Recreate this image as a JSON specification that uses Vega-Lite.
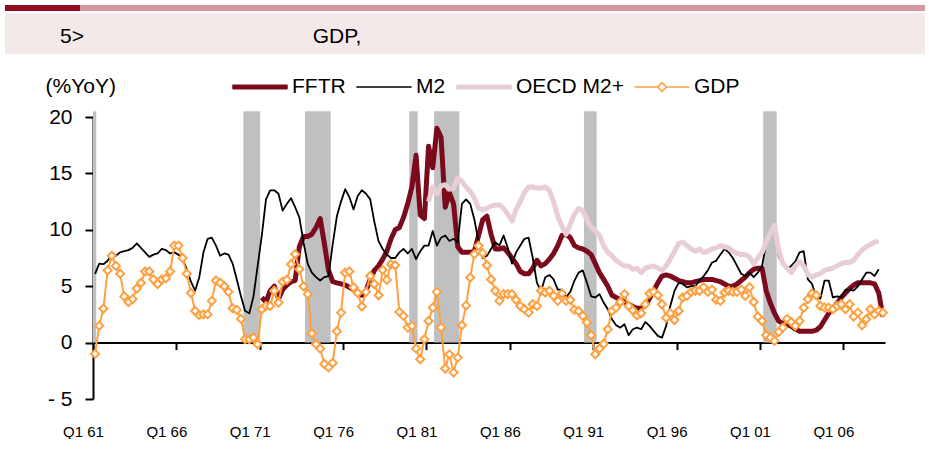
{
 "$schema": "https://vega.github.io/schema/vega-lite/v6.json",
 "padding": {"left": 5, "top": 2, "right": 0, "bottom": 0},
 "background": "white",
 "config": {"view": {"stroke": null}, "font": "Liberation Sans"},
 "datasets": {
  "rec": [
   {"from": 1960.875, "to": 1961.07},
   {"from": 1969.89, "to": 1970.9},
   {"from": 1973.59, "to": 1975.13},
   {"from": 1979.84, "to": 1980.35},
   {"from": 1981.33, "to": 1982.85},
   {"from": 1990.32, "to": 1991.08},
   {"from": 2001.07, "to": 2001.88}
  ],
  "s": [
{"yr":1961,"m2":6.1,"gdp":-1.0},
{"yr":1961.25,"m2":7.0,"gdp":1.5},
{"yr":1961.5,"m2":6.95,"gdp":3.0},
{"yr":1961.75,"m2":7.25,"gdp":6.4},
{"yr":1962,"m2":7.8,"gdp":7.7},
{"yr":1962.25,"m2":7.7,"gdp":6.8},
{"yr":1962.5,"m2":8.0,"gdp":6.1},
{"yr":1962.75,"m2":8.1,"gdp":4.1},
{"yr":1963,"m2":8.2,"gdp":3.6},
{"yr":1963.25,"m2":8.4,"gdp":3.85},
{"yr":1963.5,"m2":8.8,"gdp":4.8},
{"yr":1963.75,"m2":8.4,"gdp":5.3},
{"yr":1964,"m2":8.0,"gdp":6.3},
{"yr":1964.25,"m2":7.6,"gdp":6.3},
{"yr":1964.5,"m2":7.8,"gdp":5.6},
{"yr":1964.75,"m2":7.9,"gdp":5.2},
{"yr":1965,"m2":8.3,"gdp":5.6},
{"yr":1965.25,"m2":8.2,"gdp":5.7},
{"yr":1965.5,"m2":7.9,"gdp":6.3},
{"yr":1965.75,"m2":8.0,"gdp":8.6},
{"yr":1966,"m2":7.8,"gdp":8.6},
{"yr":1966.25,"m2":7.4,"gdp":7.5},
{"yr":1966.5,"m2":6.5,"gdp":6.1},
{"yr":1966.75,"m2":5.4,"gdp":4.4},
{"yr":1967,"m2":4.6,"gdp":2.8},
{"yr":1967.25,"m2":5.8,"gdp":2.45},
{"yr":1967.5,"m2":8.0,"gdp":2.5},
{"yr":1967.75,"m2":9.2,"gdp":2.5},
{"yr":1968,"m2":9.3,"gdp":3.7},
{"yr":1968.25,"m2":8.6,"gdp":5.5},
{"yr":1968.5,"m2":7.7,"gdp":5.3},
{"yr":1968.75,"m2":7.9,"gdp":5.0},
{"yr":1969,"m2":7.8,"gdp":4.5},
{"yr":1969.25,"m2":7.0,"gdp":3.05},
{"yr":1969.5,"m2":5.6,"gdp":2.9},
{"yr":1969.75,"m2":4.1,"gdp":2.1},
{"yr":1970,"m2":2.8,"gdp":0.3},
{"yr":1970.25,"m2":2.6,"gdp":0.3},
{"yr":1970.5,"m2":4.1,"gdp":0.44},
{"yr":1970.75,"m2":6.8,"gdp":-0.15},
{"yr":1971,"fftr":4.0,"m2":9.5,"gdp":2.96},
{"yr":1971.25,"fftr":3.6,"m2":12.7,"gdp":3.25},
{"yr":1971.5,"fftr":4.6,"m2":13.5,"gdp":3.25},
{"yr":1971.75,"fftr":5.0,"m2":13.5,"gdp":4.6},
{"yr":1972,"fftr":3.9,"m2":13.2,"gdp":3.55},
{"yr":1972.25,"fftr":4.7,"m2":11.7,"gdp":5.4},
{"yr":1972.5,"fftr":5.1,"m2":12.3,"gdp":5.56},
{"yr":1972.75,"fftr":5.4,"m2":12.8,"gdp":6.95},
{"yr":1973,"fftr":5.5,"m2":12.0,"gdp":7.84},
{"yr":1973.25,"fftr":8.5,"m2":11.1,"gdp":6.5},
{"yr":1973.5,"fftr":9.4,"m2":8.9,"gdp":5.0},
{"yr":1973.75,"fftr":9.4,"m2":7.0,"gdp":4.3},
{"yr":1974,"fftr":9.6,"m2":6.2,"gdp":0.83},
{"yr":1974.25,"fftr":10.2,"m2":5.8,"gdp":-0.15},
{"yr":1974.5,"fftr":11.0,"m2":5.5,"gdp":-0.53},
{"yr":1974.75,"fftr":8.8,"m2":5.8,"gdp":-1.9},
{"yr":1975,"fftr":6.4,"m2":5.9,"gdp":-2.2},
{"yr":1975.25,"fftr":5.4,"m2":8.7,"gdp":-1.8},
{"yr":1975.5,"fftr":5.3,"m2":11.2,"gdp":1.0},
{"yr":1975.75,"fftr":5.2,"m2":12.5,"gdp":2.66},
{"yr":1976,"fftr":5.1,"m2":13.6,"gdp":6.2},
{"yr":1976.25,"fftr":4.9,"m2":12.9,"gdp":6.3},
{"yr":1976.5,"fftr":4.7,"m2":11.8,"gdp":4.9},
{"yr":1976.75,"fftr":4.4,"m2":13.0,"gdp":4.4},
{"yr":1977,"fftr":4.2,"m2":13.5,"gdp":3.2},
{"yr":1977.25,"fftr":4.6,"m2":13.2,"gdp":4.5},
{"yr":1977.5,"fftr":5.6,"m2":12.7,"gdp":5.9},
{"yr":1977.75,"fftr":6.4,"m2":10.7,"gdp":5.2},
{"yr":1978,"fftr":6.8,"m2":9.0,"gdp":4.2},
{"yr":1978.25,"fftr":7.4,"m2":8.3,"gdp":6.45},
{"yr":1978.5,"fftr":8.1,"m2":7.8,"gdp":5.56},
{"yr":1978.75,"fftr":9.2,"m2":7.5,"gdp":6.95},
{"yr":1979,"fftr":10.0,"m2":7.5,"gdp":6.86},
{"yr":1979.25,"fftr":10.2,"m2":8.0,"gdp":2.72},
{"yr":1979.5,"fftr":11.1,"m2":8.3,"gdp":2.37},
{"yr":1979.75,"fftr":12.3,"m2":7.9,"gdp":1.33},
{"yr":1980,"fftr":13.8,"m2":8.3,"gdp":1.48},
{"yr":1980.25,"fftr":16.6,"m2":7.4,"gdp":-0.53},
{"yr":1980.5,"fftr":11.3,"m2":8.1,"gdp":-1.48},
{"yr":1980.75,"fftr":11.0,"m2":8.6,"gdp":0.3},
{"yr":1981,"fftr":17.4,"m2":8.6,"oecd":12.5,"gdp":1.92},
{"yr":1981.25,"fftr":15.5,"m2":9.9,"oecd":13.8,"gdp":3.1},
{"yr":1981.5,"fftr":19.0,"m2":8.6,"oecd":13.2,"gdp":4.5},
{"yr":1981.75,"fftr":18.2,"m2":9.3,"oecd":13.9,"gdp":1.33},
{"yr":1982,"fftr":12.0,"m2":9.5,"oecd":14.0,"gdp":-2.3},
{"yr":1982.25,"fftr":13.3,"m2":9.0,"oecd":13.6,"gdp":-1.04},
{"yr":1982.5,"fftr":12.3,"m2":9.2,"oecd":13.7,"gdp":-2.66},
{"yr":1982.75,"fftr":8.5,"m2":8.9,"oecd":14.6,"gdp":-1.33},
{"yr":1983,"fftr":8.0,"m2":12.3,"oecd":14.3,"gdp":1.54},
{"yr":1983.25,"fftr":8.0,"m2":12.7,"oecd":13.8,"gdp":3.3},
{"yr":1983.5,"fftr":8.0,"m2":12.3,"oecd":13.4,"gdp":5.77},
{"yr":1983.75,"fftr":8.1,"m2":10.9,"oecd":12.8,"gdp":7.84},
{"yr":1984,"fftr":9.5,"m2":8.9,"oecd":11.9,"gdp":8.58},
{"yr":1984.25,"fftr":10.9,"m2":7.5,"oecd":11.8,"gdp":7.93},
{"yr":1984.5,"fftr":11.2,"m2":7.7,"oecd":11.9,"gdp":6.86},
{"yr":1984.75,"fftr":9.6,"m2":8.3,"oecd":12.1,"gdp":5.6},
{"yr":1985,"fftr":8.3,"m2":8.9,"oecd":12.2,"gdp":4.6},
{"yr":1985.25,"fftr":8.3,"m2":8.6,"oecd":12.2,"gdp":3.7},
{"yr":1985.5,"fftr":8.4,"m2":9.5,"oecd":11.9,"gdp":4.3},
{"yr":1985.75,"fftr":8.0,"m2":8.4,"oecd":11.4,"gdp":4.3},
{"yr":1986,"fftr":7.5,"m2":7.0,"oecd":10.8,"gdp":4.3},
{"yr":1986.25,"fftr":7.0,"m2":8.0,"oecd":11.8,"gdp":3.8},
{"yr":1986.5,"fftr":6.3,"m2":8.6,"oecd":12.5,"gdp":3.25},
{"yr":1986.75,"fftr":6.1,"m2":9.2,"oecd":13.3,"gdp":2.96},
{"yr":1987,"fftr":6.1,"m2":9.3,"oecd":13.8,"gdp":2.66},
{"yr":1987.25,"fftr":6.6,"m2":7.5,"oecd":13.8,"gdp":3.4},
{"yr":1987.5,"fftr":7.3,"m2":5.3,"oecd":13.7,"gdp":3.25},
{"yr":1987.75,"fftr":6.8,"m2":4.6,"oecd":13.7,"gdp":4.6},
{"yr":1988,"fftr":7.0,"m2":5.8,"oecd":13.8,"gdp":4.44},
{"yr":1988.25,"fftr":7.4,"m2":6.0,"oecd":13.5,"gdp":4.6},
{"yr":1988.5,"fftr":7.9,"m2":5.6,"oecd":12.5,"gdp":4.14},
{"yr":1988.75,"fftr":8.6,"m2":4.7,"oecd":11.2,"gdp":3.7},
{"yr":1989,"fftr":9.5,"m2":4.7,"oecd":10.3,"gdp":4.35},
{"yr":1989.25,"fftr":9.6,"m2":4.0,"oecd":9.6,"gdp":3.7},
{"yr":1989.5,"fftr":9.3,"m2":4.5,"oecd":10.5,"gdp":3.8},
{"yr":1989.75,"fftr":8.6,"m2":5.5,"oecd":11.4,"gdp":2.9},
{"yr":1990,"fftr":8.4,"m2":6.2,"oecd":11.9,"gdp":2.8},
{"yr":1990.25,"fftr":8.3,"m2":6.4,"oecd":11.7,"gdp":2.37},
{"yr":1990.5,"fftr":8.1,"m2":5.3,"oecd":10.9,"gdp":1.78},
{"yr":1990.75,"fftr":7.8,"m2":4.1,"oecd":10.2,"gdp":0.65},
{"yr":1991,"fftr":7.0,"m2":4.0,"oecd":9.9,"gdp":-1.04},
{"yr":1991.25,"fftr":6.2,"m2":4.3,"oecd":9.5,"gdp":-0.53},
{"yr":1991.5,"fftr":5.6,"m2":3.55,"oecd":8.6,"gdp":-0.1},
{"yr":1991.75,"fftr":5.0,"m2":2.96,"oecd":8.0,"gdp":1.18},
{"yr":1992,"fftr":4.2,"m2":2.07,"oecd":7.7,"gdp":2.8},
{"yr":1992.25,"fftr":4.0,"m2":1.54,"oecd":7.3,"gdp":3.1},
{"yr":1992.5,"fftr":3.8,"m2":1.33,"oecd":7.0,"gdp":3.6},
{"yr":1992.75,"fftr":3.6,"m2":1.63,"oecd":6.8,"gdp":4.3},
{"yr":1993,"fftr":3.4,"m2":0.65,"oecd":6.8,"gdp":3.25},
{"yr":1993.25,"fftr":3.2,"m2":1.18,"oecd":6.5,"gdp":2.87},
{"yr":1993.5,"fftr":3.05,"m2":1.33,"oecd":6.6,"gdp":2.43},
{"yr":1993.75,"fftr":3.05,"m2":1.18,"oecd":6.2,"gdp":2.6},
{"yr":1994,"fftr":3.3,"m2":1.83,"oecd":6.6,"gdp":3.4},
{"yr":1994.25,"fftr":3.9,"m2":1.48,"oecd":6.7,"gdp":4.35},
{"yr":1994.5,"fftr":4.6,"m2":1.04,"oecd":6.8,"gdp":4.5},
{"yr":1994.75,"fftr":5.3,"m2":0.6,"oecd":6.6,"gdp":4.2},
{"yr":1995,"fftr":5.9,"m2":0.44,"oecd":6.4,"gdp":3.4},
{"yr":1995.25,"fftr":6.0,"m2":1.48,"oecd":6.8,"gdp":2.2},
{"yr":1995.5,"fftr":5.9,"m2":3.25,"oecd":7.4,"gdp":2.6},
{"yr":1995.75,"fftr":5.7,"m2":4.6,"oecd":8.1,"gdp":2.0},
{"yr":1996,"fftr":5.5,"m2":5.3,"oecd":8.8,"gdp":2.8},
{"yr":1996.25,"fftr":5.4,"m2":5.2,"oecd":8.9,"gdp":4.0},
{"yr":1996.5,"fftr":5.3,"m2":4.9,"oecd":8.6,"gdp":4.14},
{"yr":1996.75,"fftr":5.3,"m2":5.0,"oecd":8.3,"gdp":4.5},
{"yr":1997,"fftr":5.4,"m2":5.0,"oecd":8.1,"gdp":4.6},
{"yr":1997.25,"fftr":5.5,"m2":5.5,"oecd":8.3,"gdp":4.6},
{"yr":1997.5,"fftr":5.6,"m2":5.9,"oecd":8.0,"gdp":4.9},
{"yr":1997.75,"fftr":5.6,"m2":6.4,"oecd":8.1,"gdp":4.5},
{"yr":1998,"fftr":5.6,"m2":7.1,"oecd":8.3,"gdp":4.7},
{"yr":1998.25,"fftr":5.5,"m2":7.25,"oecd":8.4,"gdp":3.8},
{"yr":1998.5,"fftr":5.4,"m2":7.8,"oecd":8.6,"gdp":3.7},
{"yr":1998.75,"fftr":5.2,"m2":8.3,"oecd":8.5,"gdp":4.44},
{"yr":1999,"fftr":5.0,"m2":8.0,"oecd":8.4,"gdp":4.6},
{"yr":1999.25,"fftr":5.0,"m2":7.5,"oecd":8.1,"gdp":4.5},
{"yr":1999.5,"fftr":5.2,"m2":6.8,"oecd":7.9,"gdp":4.5},
{"yr":1999.75,"fftr":5.5,"m2":6.1,"oecd":7.8,"gdp":4.7},
{"yr":2000,"fftr":5.8,"m2":5.9,"oecd":7.8,"gdp":4.14},
{"yr":2000.25,"fftr":6.2,"m2":6.2,"oecd":7.6,"gdp":4.9},
{"yr":2000.5,"fftr":6.5,"m2":5.8,"oecd":7.0,"gdp":3.6},
{"yr":2000.75,"fftr":6.6,"m2":6.2,"oecd":7.5,"gdp":2.3},
{"yr":2001,"fftr":6.6,"m2":6.8,"oecd":8.0,"gdp":1.92},
{"yr":2001.25,"fftr":4.6,"m2":8.8,"oecd":8.9,"gdp":0.65},
{"yr":2001.5,"fftr":3.5,"m2":9.6,"oecd":9.7,"gdp":0.44},
{"yr":2001.75,"fftr":2.6,"m2":10.3,"oecd":10.4,"gdp":0.15},
{"yr":2002,"fftr":1.9,"m2":7.6,"oecd":8.2,"gdp":0.95},
{"yr":2002.25,"fftr":1.7,"m2":6.9,"oecd":7.0,"gdp":1.33},
{"yr":2002.5,"fftr":1.6,"m2":6.5,"oecd":6.6,"gdp":2.1},
{"yr":2002.75,"fftr":1.45,"m2":6.8,"oecd":6.2,"gdp":1.83},
{"yr":2003,"fftr":1.2,"m2":7.2,"oecd":6.8,"gdp":1.48},
{"yr":2003.25,"fftr":1.0,"m2":8.0,"oecd":7.2,"gdp":1.92},
{"yr":2003.5,"fftr":1.0,"m2":8.1,"oecd":6.8,"gdp":3.1},
{"yr":2003.75,"fftr":1.0,"m2":5.6,"oecd":6.0,"gdp":3.85},
{"yr":2004,"fftr":1.0,"m2":5.2,"oecd":5.8,"gdp":4.35},
{"yr":2004.25,"fftr":1.1,"m2":4.0,"oecd":6.0,"gdp":4.2},
{"yr":2004.5,"fftr":1.4,"m2":3.9,"oecd":6.1,"gdp":3.25},
{"yr":2004.75,"fftr":2.0,"m2":5.5,"oecd":6.4,"gdp":3.1},
{"yr":2005,"fftr":2.6,"m2":5.5,"oecd":6.5,"gdp":3.1},
{"yr":2005.25,"fftr":3.0,"m2":4.0,"oecd":6.6,"gdp":2.96},
{"yr":2005.5,"fftr":3.5,"m2":4.1,"oecd":6.8,"gdp":3.25},
{"yr":2005.75,"fftr":4.0,"m2":4.0,"oecd":7.0,"gdp":3.4},
{"yr":2006,"fftr":4.4,"m2":4.7,"oecd":7.1,"gdp":2.96},
{"yr":2006.25,"fftr":4.8,"m2":4.7,"oecd":7.1,"gdp":3.4},
{"yr":2006.5,"fftr":5.1,"m2":4.6,"oecd":7.3,"gdp":2.3},
{"yr":2006.75,"fftr":5.3,"m2":5.0,"oecd":7.8,"gdp":2.66},
{"yr":2007,"fftr":5.3,"m2":5.6,"oecd":8.2,"gdp":1.54},
{"yr":2007.25,"fftr":5.3,"m2":6.2,"oecd":8.5,"gdp":2.07},
{"yr":2007.5,"fftr":5.3,"m2":6.2,"oecd":8.7,"gdp":2.96},
{"yr":2007.75,"fftr":5.2,"m2":5.9,"oecd":8.9,"gdp":2.5},
{"yr":2008,"fftr":4.4,"m2":6.5,"oecd":9.0,"gdp":2.8},
{"yr":2008.25,"fftr":2.3,"gdp":2.66}
  ]
 },
 "spacing": 21,
 "vconcat": [
  {"spacing": 0, "vconcat": [
   {"spacing": 0, "hconcat": [
    {"width": 75, "height": 6, "view": {"fill": "#8E0B22", "stroke": null}, "data": {"values": [{}]}, "mark": {"type": "text", "text": ""}},
    {"width": 845, "height": 6, "view": {"fill": "#D4979F", "stroke": null}, "data": {"values": [{}]}, "mark": {"type": "text", "text": ""}}
   ]},
   {"spacing": 0, "hconcat": [
    {"width": 134, "height": 41, "view": {"fill": "#F4E9E9", "stroke": null}, "data": {"values": [{}]}, "mark": {"type": "text", "text": "5>", "font": "Liberation Sans", "fontSize": 21, "dy": 3, "color": "#000000"}},
    {"width": 396, "height": 41, "view": {"fill": "#F4E9E9", "stroke": null}, "data": {"values": [{}]}, "mark": {"type": "text", "text": "GDP,", "font": "Liberation Sans", "fontSize": 21, "dy": 3, "color": "#000000"}},
    {"width": 390, "height": 41, "view": {"fill": "#F4E9E9", "stroke": null}, "data": {"values": [{}]}, "mark": {"type": "text", "text": ""}}
   ]}
  ]},
  {"spacing": 0, "hconcat": [
   {"width": 40, "height": 10, "data": {"values": [{}]}, "mark": {"type": "text", "text": ""}},
   {
    "width": 792, "height": 282,
    "resolve": {"axis": {"x": "independent"}},
    "layer": [
     {"data": {"name": "rec"}, "mark": {"type": "rect", "color": "#C0C0C0"},
      "encoding": {
       "x": {"field": "from", "type": "quantitative", "scale": {"domain": [1960.875, 2008.375], "nice": false, "zero": false},
             "axis": {"orient": "bottom", "offset": -56.4, "values": [1960.875,1965.875,1970.875,1975.875,1980.875,1985.875,1990.875,1995.875,2000.875,2005.875], "labels": false, "title": null, "domain": true, "domainColor": "#000000", "domainWidth": 2, "ticks": true, "tickColor": "#000000", "tickWidth": 2, "tickSize": 7, "grid": false}},
       "x2": {"field": "to"},
       "y": {"datum": 0, "type": "quantitative", "scale": {"domain": [-5, 20], "nice": false, "zero": false},
             "axis": {"values": [-5,0,5,10,15,20], "labelExpr": "datum.value < 0 ? '- ' + (-datum.value) : '' + datum.value", "title": "(%YoY)", "titleAngle": 0, "titleAlign": "left", "titleBaseline": "middle", "titleX": -48, "titleY": -31, "titleFontWeight": "normal", "titleFontSize": 21, "titleFont": "Liberation Sans", "titleColor": "#000000", "labelFont": "Liberation Sans", "labelFontSize": 21, "labelColor": "#000000", "labelPadding": 13, "domainColor": "#000000", "domainWidth": 2, "tickColor": "#000000", "tickWidth": 2, "tickSize": 8, "grid": false}},
       "y2": {"datum": 20.5}
      }},
     {"data": {"name": "s"}, "mark": {"type": "line", "strokeWidth": 5, "strokeJoin": "round"},
      "encoding": {
       "x": {"field": "yr", "type": "quantitative",
             "axis": {"orient": "bottom", "values": [1960.875,1965.875,1970.875,1975.875,1980.875,1985.875,1990.875,1995.875,2000.875,2005.875], "labelExpr": "'Q1 ' + slice(toString(round(datum.value + 0.125)), 2)", "domain": false, "ticks": false, "grid": false, "title": null, "labelPadding": 25, "labelOffset": -10, "labelFont": "Liberation Sans", "labelFontSize": 15, "labelColor": "#000000", "labelFlush": false, "labelOverlap": false, "labelBound": false}},
       "y": {"field": "fftr", "type": "quantitative",
             "axis": {"values": [-5,0,5,10,15,20], "labelExpr": "datum.value < 0 ? '- ' + (-datum.value) : '' + datum.value", "title": "(%YoY)", "titleAngle": 0, "titleAlign": "left", "titleBaseline": "middle", "titleX": -48, "titleY": -31, "titleFontWeight": "normal", "titleFontSize": 21, "titleFont": "Liberation Sans", "titleColor": "#000000", "labelFont": "Liberation Sans", "labelFontSize": 21, "labelColor": "#000000", "labelPadding": 13, "domainColor": "#000000", "domainWidth": 2, "tickColor": "#000000", "tickWidth": 2, "tickSize": 8, "grid": false}},
       "color": {"datum": "FFTR", "type": "nominal",
                 "scale": {"domain": ["FFTR", "M2", "OECD M2+", "GDP"], "range": ["#7B0A1C", "#000000", "#E8CED4", "#FFA040"]},
                 "legend": {"orient": "none", "legendX": 227, "legendY": 54, "direction": "horizontal", "title": null, "symbolSize": 2916, "symbolStrokeWidth": 1.6, "labelFont": "Liberation Sans", "labelFontSize": 21, "labelColor": "#000000", "labelOffset": 4, "columnPadding": 10, "padding": 0,
                            "encode": {"symbols": {"update": {
                              "shape": {"signal": "datum.value === 'GDP' ? 'M-1,0H-0.16M0.16,0H1M0,-0.16L0.16,0L0,0.16L-0.16,0Z' : (datum.value === 'M2' ? 'M-1,0H1' : 'M-1,-0.06H1V0.06H-1Z')"},
                              "fill": {"signal": "datum.value === 'GDP' ? '#FFFFFF' : (datum.value === 'FFTR' ? '#7B0A1C' : (datum.value === 'OECD M2+' ? '#E8CED4' : 'transparent'))"},
                              "strokeWidth": {"value": 1.6},
                              "strokeCap": {"value": "round"},
                              "strokeJoin": {"value": "round"},
                              "size": {"value": 2916}}}}}}
      }},
     {"data": {"name": "s"}, "mark": {"type": "line", "strokeWidth": 1.8, "strokeJoin": "round"},
      "encoding": {
       "x": {"field": "yr", "type": "quantitative", "axis": null},
       "y": {"field": "m2", "type": "quantitative",
             "axis": {"values": [-5,0,5,10,15,20], "labelExpr": "datum.value < 0 ? '- ' + (-datum.value) : '' + datum.value", "title": "(%YoY)", "titleAngle": 0, "titleAlign": "left", "titleBaseline": "middle", "titleX": -48, "titleY": -31, "titleFontWeight": "normal", "titleFontSize": 21, "titleFont": "Liberation Sans", "titleColor": "#000000", "labelFont": "Liberation Sans", "labelFontSize": 21, "labelColor": "#000000", "labelPadding": 13, "domainColor": "#000000", "domainWidth": 2, "tickColor": "#000000", "tickWidth": 2, "tickSize": 8, "grid": false}},
       "color": {"datum": "M2", "type": "nominal"}
      }},
     {"data": {"name": "s"}, "mark": {"type": "line", "strokeWidth": 5, "strokeJoin": "round"},
      "encoding": {
       "x": {"field": "yr", "type": "quantitative", "axis": null},
       "y": {"field": "oecd", "type": "quantitative",
             "axis": {"values": [-5,0,5,10,15,20], "labelExpr": "datum.value < 0 ? '- ' + (-datum.value) : '' + datum.value", "title": "(%YoY)", "titleAngle": 0, "titleAlign": "left", "titleBaseline": "middle", "titleX": -48, "titleY": -31, "titleFontWeight": "normal", "titleFontSize": 21, "titleFont": "Liberation Sans", "titleColor": "#000000", "labelFont": "Liberation Sans", "labelFontSize": 21, "labelColor": "#000000", "labelPadding": 13, "domainColor": "#000000", "domainWidth": 2, "tickColor": "#000000", "tickWidth": 2, "tickSize": 8, "grid": false}},
       "color": {"datum": "OECD M2+", "type": "nominal"}
      }},
     {"data": {"name": "s"}, "mark": {"type": "line", "strokeWidth": 2, "strokeJoin": "round"},
      "encoding": {
       "x": {"field": "yr", "type": "quantitative", "axis": null},
       "y": {"field": "gdp", "type": "quantitative",
             "axis": {"values": [-5,0,5,10,15,20], "labelExpr": "datum.value < 0 ? '- ' + (-datum.value) : '' + datum.value", "title": "(%YoY)", "titleAngle": 0, "titleAlign": "left", "titleBaseline": "middle", "titleX": -48, "titleY": -31, "titleFontWeight": "normal", "titleFontSize": 21, "titleFont": "Liberation Sans", "titleColor": "#000000", "labelFont": "Liberation Sans", "labelFontSize": 21, "labelColor": "#000000", "labelPadding": 13, "domainColor": "#000000", "domainWidth": 2, "tickColor": "#000000", "tickWidth": 2, "tickSize": 8, "grid": false}},
       "color": {"datum": "GDP", "type": "nominal"}
      }},
     {"data": {"name": "s"}, "mark": {"type": "point", "shape": "diamond", "filled": true, "fill": "#FFFFFF", "stroke": "#FFA040", "strokeWidth": 2, "size": 65, "opacity": 1},
      "encoding": {
       "x": {"field": "yr", "type": "quantitative", "axis": null},
       "y": {"field": "gdp", "type": "quantitative",
             "axis": {"values": [-5,0,5,10,15,20], "labelExpr": "datum.value < 0 ? '- ' + (-datum.value) : '' + datum.value", "title": "(%YoY)", "titleAngle": 0, "titleAlign": "left", "titleBaseline": "middle", "titleX": -48, "titleY": -31, "titleFontWeight": "normal", "titleFontSize": 21, "titleFont": "Liberation Sans", "titleColor": "#000000", "labelFont": "Liberation Sans", "labelFontSize": 21, "labelColor": "#000000", "labelPadding": 13, "domainColor": "#000000", "domainWidth": 2, "tickColor": "#000000", "tickWidth": 2, "tickSize": 8, "grid": false}}
      }}
    ]
   }
  ]}
 ]
}
